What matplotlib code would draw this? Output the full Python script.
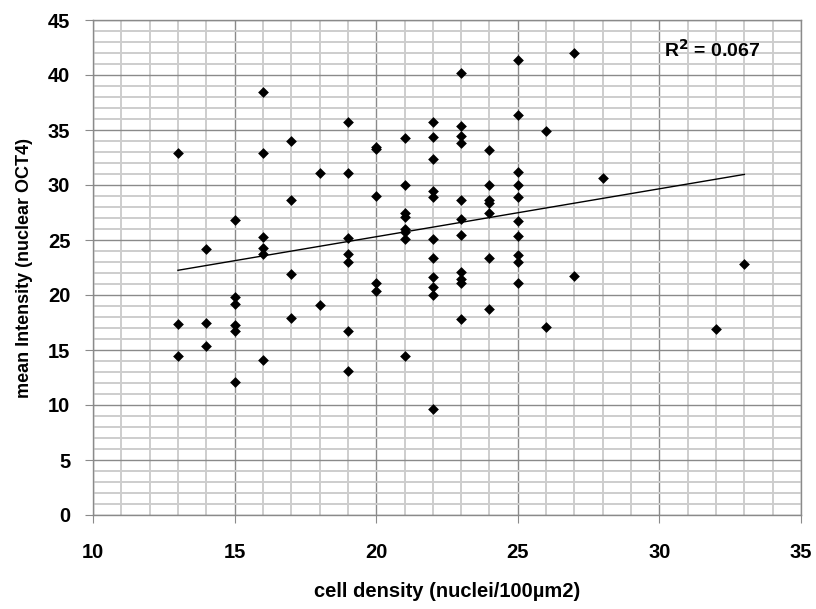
import numpy as np
import matplotlib
matplotlib.use("Agg")
import matplotlib.pyplot as plt
from matplotlib.ticker import MultipleLocator

data = {
    13: [32.9, 17.4, 14.5],
    14: [24.2, 17.5, 15.4],
    15: [26.8, 19.8, 19.2, 17.3, 16.7, 12.1],
    16: [38.5, 32.9, 25.3, 24.3, 23.7, 14.1],
    17: [34.0, 28.6, 21.9, 17.9],
    18: [31.1, 19.1],
    19: [35.7, 31.1, 25.2, 23.7, 23.0, 16.7, 13.1],
    20: [33.5, 33.3, 29.0, 21.1, 20.4],
    21: [34.3, 30.0, 27.5, 27.1, 26.0, 25.7, 25.1, 14.5],
    22: [35.7, 34.4, 32.4, 29.5, 28.9, 25.1, 23.4, 21.6, 20.7, 20.0, 9.6],
    23: [40.2, 35.4, 34.5, 33.8, 28.6, 26.9, 25.5, 22.1, 21.5, 21.1, 17.8],
    24: [33.2, 30.0, 28.6, 28.4, 27.5, 23.4, 18.7],
    25: [41.4, 36.4, 31.2, 30.0, 28.9, 26.7, 25.4, 23.6, 23.0, 21.1],
    26: [34.9, 17.1],
    27: [42.0, 21.7],
    28: [30.6],
    32: [16.9],
    33: [22.8],
}
x_vals = []
y_vals = []
for k, v in data.items():
    for y in v:
        x_vals.append(k)
        y_vals.append(y)
x_vals = np.array(x_vals, float)
y_vals = np.array(y_vals, float)

x_ticks = [10, 15, 20, 25, 30, 35]
y_ticks = list(range(0, 46, 5))
r2_label = "R$^{2}$ = 0.067"

plt.rcParams['font.family'] = ['Liberation Sans', 'DejaVu Sans']
plt.rcParams['mathtext.default'] = 'bf'

fig = plt.figure(figsize=(8.16, 6.09), dpi=100)
ax = fig.add_axes([93/816, 1-515/609, (801-93)/816, (515-20)/609])

ax.set_xlim(10, 35)
ax.set_ylim(0, 45)
ax.xaxis.set_minor_locator(MultipleLocator(1))
ax.yaxis.set_minor_locator(MultipleLocator(1))
ax.grid(which='minor', color='#cdcdcd', linewidth=1.4, zorder=0)
ax.grid(which='major', color='#8a8a8a', linewidth=1.0, zorder=0)
ax.set_axisbelow(True)
for s in ax.spines.values():
    s.set_color('#8a8a8a')
    s.set_linewidth(1.0)
ax.tick_params(which='minor', length=0)
ax.tick_params(which='major', length=5.8, color='#8a8a8a', direction='out')
ax.tick_params(axis='x', pad=14)
ax.tick_params(axis='y', pad=10.5)
ax.set_xticks(x_ticks)
ax.set_yticks(y_ticks)
ax.set_xticklabels([str(t) for t in x_ticks], fontsize=14.5, fontweight='bold')
ax.set_yticklabels([str(t) for t in y_ticks], fontsize=14.5, fontweight='bold')

ax.scatter(x_vals, y_vals, marker='D', s=30, color='black', zorder=3, linewidths=0)

m, b = np.polyfit(x_vals, y_vals, 1)
xl = np.array([x_vals.min(), x_vals.max()])
ax.plot(xl, m*xl + b, color='black', linewidth=1.0, zorder=2)

ax.text(30.15, 42.3, r2_label, fontsize=14, fontweight='bold', va='center', ha='left')

ax.set_xlabel('cell density (nuclei/100µm2)', fontsize=14.5, fontweight='bold')
ax.set_ylabel('mean Intensity (nuclear OCT4)', fontsize=13, fontweight='bold')
ax.xaxis.set_label_coords(0.5, -0.135)
ax.yaxis.set_label_coords(-0.085, 0.5)

fig.savefig('out.png', dpi=100)
